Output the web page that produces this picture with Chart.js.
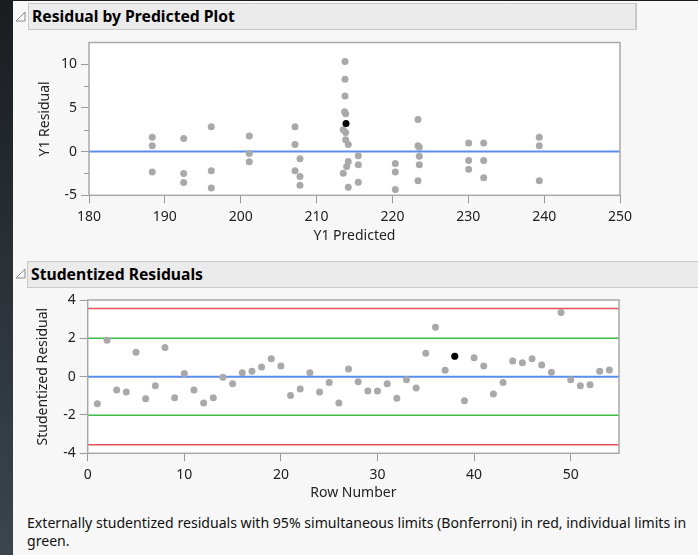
<!DOCTYPE html>
<html>
<head>
<meta charset="utf-8">
<script src="https://cdn.jsdelivr.net/npm/chart.js@4.4.1/dist/chart.umd.min.js"></script>
<style>
  body { margin: 0; width: 698px; height: 555px; overflow: hidden; position: relative;
         background: linear-gradient(#1a1d20, #3b454e); font-family: 'Noto Sans', sans-serif; }
  .panel { position: absolute; left: 13px; top: 1px; right: 0; bottom: 0; background: #f7f7f7; }
  .hdr { position: absolute; box-sizing: border-box; height: 27px; background: #ebebeb;
         border: 1.5px solid #c9c9c9; border-right-width: 2px; font-weight: bold; font-size: 15.7px;
         line-height: 24px; padding-left: 3px; color: #000; }
  .tri { position: absolute; width: 11px; height: 11px; }
  canvas { position: absolute; }
  .note { position: absolute; left: 27px; top: 514px; width: 668px; font-size: 14.1px; line-height: 18px; color: #111; }
</style>
</head>
<body>
<div class="panel"></div>
<svg class="tri" style="left:15px;top:11px" viewBox="0 0 11 11"><polygon points="10,1 10,10 1,10" fill="none" stroke="#8a8a8a" stroke-width="1"/></svg>
<div class="hdr" style="left:28px;top:3px;width:609px">Residual by Predicted Plot</div>
<canvas id="resid" width="640" height="214" style="left:20px;top:36px"></canvas>
<svg class="tri" style="left:15px;top:268px" viewBox="0 0 11 11"><polygon points="10,1 10,10 1,10" fill="none" stroke="#8a8a8a" stroke-width="1"/></svg>
<div class="hdr" style="left:27px;top:261px;width:671px;border-right:none">Studentized Residuals</div>
<canvas id="stud" width="640" height="212" style="left:20px;top:292px"></canvas>
<div class="note">Externally studentized residuals with 95% simultaneous limits (Bonferroni) in red, individual limits in green.</div>
<script>
// Residual by Predicted
const predicted = [
  188.34, 188.34, 188.34,
  192.48, 192.48, 192.48,
  196.12, 196.12, 196.12,
  201.13, 201.13, 201.13,
  207.16, 207.16, 207.16,
  207.81, 207.81, 207.81,
  213.75, 213.75, 213.75, 213.7, 213.84, 213.52, 213.84, 213.84, 214.18, 214.18, 213.97, 213.52, 214.18,
  215.5, 215.5, 215.5,
  220.38, 220.38, 220.38,
  223.37, 223.37, 223.54, 223.54, 223.54, 223.37,
  230.05, 230.05, 230.05,
  232.03, 232.03, 232.03,
  239.36, 239.36, 239.36
];
const residual = [
  1.645, 0.65, -2.35,
  1.485, -2.51, -3.54,
  2.82, -2.2, -4.18,
  1.79, -0.23, -1.18,
  2.82, 0.8, -2.2,
  -0.83, -2.86, -3.84,
  10.28, 8.27, 6.36, 4.54, 4.31, 2.48, 2.17, 1.34, 0.8, -1.14, -1.71, -2.47, -4.07,
  -0.49, -1.52, -3.5,
  -1.37, -2.35, -4.34,
  3.66, 0.65, 0.5, -0.53, -1.52, -3.35,
  0.99, -1.03, -2.01,
  0.99, -1.03, -3.0,
  1.645, 0.65, -3.35
];
const selPredicted = [213.88];
const selResidual = [3.2];

// Studentized residuals by row (rows 1..54)
const studentized = [
  -1.41, 1.9, -0.7, -0.8, 1.27, -1.15, -0.47, 1.52, -1.1, 0.16,
  -0.7, -1.38, -1.1, -0.03, -0.37, 0.21, 0.28, 0.51, 0.94, 0.56,
  -0.98, -0.65, 0.21, -0.8, -0.31, -1.38, 0.4, -0.26, -0.75, -0.75,
  -0.37, -1.13, -0.16, -0.59, 1.22, 2.58, 0.33, 1.06, -1.26, 0.98,
  0.56, -0.91, -0.31, 0.82, 0.72, 0.93, 0.61, 0.23, 3.35, -0.16,
  -0.47, -0.42, 0.28, 0.35
];
const selRow = 38;
const bonferroniLimit = 3.56;
const individualLimit = 2.01;

const predRange = [180, 250];
const residRange = [-5, 12.46];
const rowRange = [0, 55];
const studRange = [-4, 4];

const ink = '#222';
const tickFont = { family: 'Noto Sans', size: 14 };
const titleFont = { family: 'Noto Sans', size: 14 };

// white plot area + grey frame, plus short minor ticks on the y axis
const framePlugin = {
  id: 'frame',
  beforeDraw(chart) {
    const a = chart.chartArea, ctx = chart.ctx;
    ctx.save();
    ctx.fillStyle = '#fff';
    ctx.fillRect(a.left, a.top, a.right - a.left, a.bottom - a.top);
    ctx.restore();
  },
  afterDraw(chart, args, opts) {
    const a = chart.chartArea, ctx = chart.ctx, y = chart.scales.y;
    ctx.save();
    ctx.strokeStyle = '#a9a9a9';
    ctx.lineWidth = 1.5;
    ctx.strokeRect(a.left, a.top, a.right - a.left, a.bottom - a.top);
    ctx.strokeStyle = '#999';
    ctx.lineWidth = 1;
    y.ticks.forEach(t => {
      if (t.value % opts.major === 0) return;
      const py = Math.round(y.getPixelForValue(t.value)) + 0.5;
      ctx.beginPath();
      ctx.moveTo(a.left - 5, py);
      ctx.lineTo(a.left, py);
      ctx.stroke();
    });
    ctx.restore();
  }
};

function hline(v, range, color, width) {
  return { type: 'line', data: [{ x: range[0], y: v }, { x: range[1], y: v }],
           borderColor: color, borderWidth: width, pointRadius: 0, order: 3 };
}

function axes(xr, yr, xStep, yStep, yMajor, xTitle, yTitle, xH, yW, xPad, yPad) {
  return {
    x: {
      type: 'linear', min: xr[0], max: xr[1],
      afterFit: s => { s.height = xH; s.paddingLeft = 0; s.paddingRight = 0; },
      ticks: { stepSize: xStep, includeBounds: false, font: tickFont, color: ink, padding: 5, maxRotation: 0 },
      grid: { drawOnChartArea: false, tickLength: 8, tickColor: '#999' },
      border: { display: false },
      title: { display: true, text: xTitle, font: titleFont, color: ink, padding: { top: 0, bottom: xPad } }
    },
    y: {
      type: 'linear', min: yr[0], max: yr[1],
      afterFit: s => { s.width = yW; s.paddingTop = 0; s.paddingBottom = 0; },
      ticks: { stepSize: yStep, includeBounds: false, font: tickFont, color: ink, padding: 4,
               callback: v => (v % yMajor === 0 ? String(v) : '') },
      grid: { drawOnChartArea: false, tickLength: 8,
              tickColor: c => (c.tick && c.tick.value % yMajor === 0 ? '#999' : 'rgba(0,0,0,0)') },
      border: { display: false },
      title: { display: true, text: yTitle, font: titleFont, color: ink, padding: { top: yPad, bottom: 0 } }
    }
  };
}

const residPoints = predicted.map((p, i) => ({ x: p, y: residual[i] }));
const residSel = selPredicted.map((p, i) => ({ x: p, y: selResidual[i] }));

new Chart(document.getElementById('resid'), {
  type: 'scatter',
  data: {
    datasets: [
      { data: residSel, backgroundColor: '#000', pointRadius: 3.5, pointBorderWidth: 0, order: 0 },
      { data: residPoints, backgroundColor: '#a9a9a9', pointRadius: 3.5, pointBorderWidth: 0, order: 1 },
      hline(0, predRange, '#5b8def', 2)
    ]
  },
  options: {
    responsive: false,
    animation: false,
    layout: { padding: { top: 6.5, right: 40, left: 0, bottom: 0 } },
    plugins: { legend: { display: false }, tooltip: { enabled: false }, frame: { major: 5 } },
    scales: axes(predRange, residRange, 10, 2.5, 5, 'Y1 Predicted', 'Y1 Residual', 54.7, 69, 6, 17)
  },
  plugins: [framePlugin]
});

const studPoints = studentized.map((v, i) => ({ x: i + 1, y: v }));
const studSel = [{ x: selRow, y: studentized[selRow - 1] }];

new Chart(document.getElementById('stud'), {
  type: 'scatter',
  data: {
    datasets: [
      { data: studSel, backgroundColor: '#000', pointRadius: 3.5, pointBorderWidth: 0, order: 0 },
      { data: studPoints, backgroundColor: '#a9a9a9', pointRadius: 3.5, pointBorderWidth: 0, order: 1 },
      hline(0, rowRange, '#5b8def', 2),
      hline(individualLimit, rowRange, '#3dbb44', 1.5),
      hline(-individualLimit, rowRange, '#3dbb44', 1.5),
      hline(bonferroniLimit, rowRange, '#e4505c', 1.5),
      hline(-bonferroniLimit, rowRange, '#e4505c', 1.5)
    ]
  },
  options: {
    responsive: false,
    animation: false,
    layout: { padding: { top: 8, right: 41, left: 0, bottom: 0 } },
    plugins: { legend: { display: false }, tooltip: { enabled: false }, frame: { major: 2 } },
    scales: axes(rowRange, studRange, 10, 1, 2, 'Row Number', 'Studentized Residual', 50.7, 67.7, 3, 15)
  },
  plugins: [framePlugin]
});
</script>
</body>
</html>
